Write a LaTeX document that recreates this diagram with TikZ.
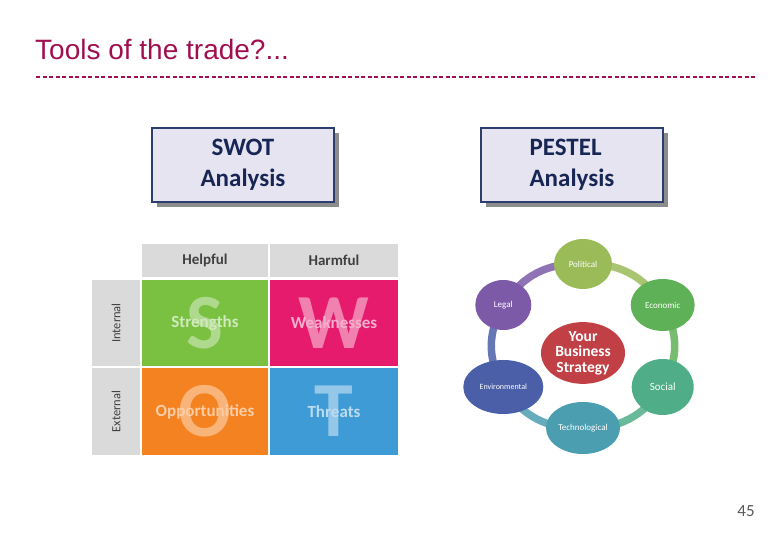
\documentclass[tikz,border=0pt]{standalone}
\usepackage{fontspec}
\setmainfont{Carlito}
\newfontfamily\arialfont{Liberation Sans}
\usetikzlibrary{shapes.geometric,shadows,backgrounds}

\definecolor{titlered}{RGB}{160,16,80}
\definecolor{boxnavy}{RGB}{44,62,110}
\definecolor{boxfill}{RGB}{230,228,240}
\definecolor{textnavy}{RGB}{23,38,84}
\definecolor{swotgray}{RGB}{218,218,218}
\definecolor{swotgreen}{RGB}{122,193,66}
\definecolor{swotpink}{RGB}{230,27,110}
\definecolor{swotorange}{RGB}{245,130,32}
\definecolor{swotblue}{RGB}{62,155,213}
\definecolor{polcol}{RGB}{155,187,89}
\definecolor{ecocol}{RGB}{95,177,87}
\definecolor{soccol}{RGB}{79,174,136}
\definecolor{teccol}{RGB}{75,157,176}
\definecolor{envcol}{RGB}{74,95,168}
\definecolor{legcol}{RGB}{124,90,168}
\definecolor{stratcol}{RGB}{192,64,69}

\begin{document}
\begin{tikzpicture}[
        x=1pt, y=1pt,
        every node/.style={inner sep=0pt},
        toolbox/.style={draw=boxnavy, line width=2pt, fill=boxfill, minimum width=182pt, minimum height=74pt, font=\fontsize{25}{31}\selectfont\bfseries, text=textnavy, drop shadow={shadow xshift=5pt, shadow yshift=-5pt, fill=black!45, opacity=1}},
        hdrcell/.style={fill=swotgray, minimum height=33pt, font=\fontsize{15}{15}\selectfont\bfseries, text=black!75},
        sidecell/.style={fill=swotgray, minimum width=48pt, font=\fontsize{12.5}{12.5}\selectfont, text=black!75},
        swotcell/.style={minimum height=86pt, font=\fontsize{78}{78}\selectfont\bfseries},
        swotword/.style={font=\fontsize{17}{17}\selectfont\bfseries},
        pestnode/.style={ellipse, text=white, font=\fontsize{9}{9}\selectfont},
        ringseg/.style={line width=7.5pt}
    ]
        \useasboundingbox (0,0) rectangle (780,540);

        % Title
        \node[anchor=base west, font=\arialfont\fontsize{28}{28}\selectfont, text=titlered] (title) at (35,480) {Tools of the trade?...};
        \coordinate (rulestart) at (36,463);
        \coordinate (ruleend) at (757,463);
        \draw[titlered, line width=1.7pt, dash pattern=on 4pt off 2.5pt] (rulestart) -- (ruleend);

        % Tool boxes
        \node[toolbox, align=center] (swotbox) at (243,375) {SWOT\\Analysis};
        \node[toolbox, align=left] (pestbox) at (572,375) {PESTEL\\Analysis};

        % SWOT grid
        \node[hdrcell, minimum width=126pt] (helpful) at (205,279.5) {Helpful};
        \node[hdrcell, minimum width=128pt] (harmful) at (334,279.5) {Harmful};
        \node[sidecell, minimum height=86pt] (internal) at (116,217) {\rotatebox{90}{Internal}};
        \node[sidecell, minimum height=87pt] (external) at (116,128.5) {\rotatebox{90}{External}};

        \node[swotcell, fill=swotgreen, text=swotgreen!60!white, minimum width=126pt] (strengths) at (205,217) {S};
        \node[swotcell, fill=swotpink, text=swotpink!55!white, minimum width=128pt] (weaknesses) at (334,217) {W};
        \node[swotcell, fill=swotorange, text=swotorange!60!white, minimum width=126pt, minimum height=87pt] (opportunities) at (205,128.5) {O};
        \node[swotcell, fill=swotblue, text=swotblue!55!white, minimum width=128pt, minimum height=87pt] (threats) at (334,128.5) {T};

        \node[swotword, text=swotgreen!35!white] (strlbl) at (strengths) {Strengths};
        \node[swotword, text=swotpink!35!white] (weaklbl) at (weaknesses) {Weaknesses};
        \node[swotword, text=swotorange!40!white] (opplbl) at (opportunities) {Opportunities};
        \node[swotword, text=swotblue!35!white] (thrlbl) at (threats) {Threats};

        % PESTEL wheel
        \node[pestnode, fill=polcol, minimum width=58pt, minimum height=50pt] (political) at (583,276) {Political};
        \node[pestnode, fill=ecocol, minimum width=64pt, minimum height=52pt] (economic) at (662.7,235) {Economic};
        \node[pestnode, fill=soccol, minimum width=62pt, minimum height=56pt, font=\fontsize{11}{11}\selectfont] (social) at (662.7,153) {Social};
        \node[pestnode, fill=teccol, minimum width=74pt, minimum height=52pt] (technological) at (583,112) {Technological};
        \node[pestnode, fill=envcol, minimum width=80pt, minimum height=54pt, font=\fontsize{8}{8}\selectfont] (environmental) at (503.3,153) {Environmental};
        \node[pestnode, fill=legcol, minimum width=56pt, minimum height=50pt] (legal) at (503.3,235) {Legal};
        \node[pestnode, fill=stratcol, minimum width=84pt, minimum height=58pt, align=center, font=\fontsize{15.5}{15.5}\selectfont\bfseries] (strategy) at (583,187) {Your\\Business\\Strategy};

        \begin{scope}[on background layer]
            \draw[ringseg, draw=polcol!85!white] (political.center) to[bend left=30] (economic.center);
            \draw[ringseg, draw=ecocol!85!white] (economic.center) to[bend left=30] (social.center);
            \draw[ringseg, draw=soccol!85!white] (social.center) to[bend left=30] (technological.center);
            \draw[ringseg, draw=teccol!85!white] (technological.center) to[bend left=30] (environmental.center);
            \draw[ringseg, draw=envcol!85!white] (environmental.center) to[bend left=30] (legal.center);
            \draw[ringseg, draw=legcol!85!white] (legal.center) to[bend left=30] (political.center);
        \end{scope}

        % Page number
        \node[font=\fontsize{17}{17}\selectfont, text=black!65] (pagenum) at (746,29) {45};

    \end{tikzpicture}
\end{document}
